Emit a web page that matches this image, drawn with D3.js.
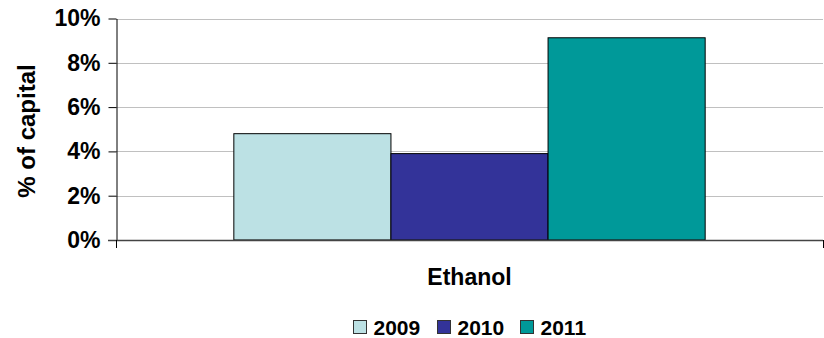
<!DOCTYPE html>
<html>
<head>
<meta charset="utf-8">
<script src="https://cdn.jsdelivr.net/npm/d3@7"></script>
<style>
  html, body { margin: 0; padding: 0; background: #fff; }
  svg { display: block; }
  text { font-family: "Liberation Sans", Arial, sans-serif; font-weight: bold; fill: #000; }
</style>
</head>
<body>
<svg id="chart" width="824" height="338"></svg>
<script>
// Return on capital by year, ethanol segment
const categories = ["Ethanol"];
const years = ["2009", "2010", "2011"];
const values2009 = [0.048];
const values2010 = [0.039];
const values2011 = [0.0913];
const yTicks = [0, 0.02, 0.04, 0.06, 0.08, 0.10];
const yTitle = "% of capital";

const seriesValues = { "2009": values2009, "2010": values2010, "2011": values2011 };
const colors = { "2009": "#bce1e4", "2010": "#333399", "2011": "#009999" };

const svg = d3.select("#chart");
const plot = { left: 116, right: 823, top: 18.5, bottom: 240 };
const tickFont = 23;
const titleFont = 24;
const legendFont = 21;

const y = d3.scaleLinear().domain([0, 0.10]).range([plot.bottom, plot.top]);
const x0 = d3.scaleBand().domain(categories).range([plot.left, plot.right]).padding(0);
const x1 = d3.scaleBand().domain(years).range([0, x0.bandwidth()])
  .paddingInner(0).paddingOuter(0.75);

// horizontal gridlines
svg.append("g")
  .selectAll("line")
  .data(yTicks.filter(d => d > 0))
  .join("line")
  .attr("x1", plot.left).attr("x2", plot.right)
  .attr("y1", d => Math.round(y(d)) + 0.5).attr("y2", d => Math.round(y(d)) + 0.5)
  .attr("stroke", "#c0c0c0").attr("stroke-width", 1);

// bars
const groups = svg.append("g")
  .selectAll("g")
  .data(categories)
  .join("g")
  .attr("transform", d => `translate(${x0(d)},0)`);

groups.selectAll("rect")
  .data((c, i) => years.map(yr => ({ year: yr, value: seriesValues[yr][i] })))
  .join("rect")
  .attr("x", d => x1(d.year))
  .attr("y", d => y(d.value))
  .attr("width", x1.bandwidth())
  .attr("height", d => y(0) - y(d.value))
  .attr("fill", d => colors[d.year])
  .attr("stroke", "#000").attr("stroke-width", 1);

// y axis
const yAxis = svg.append("g")
  .attr("transform", `translate(${plot.left + 0.5},0)`)
  .call(d3.axisLeft(y).tickValues(yTicks).tickFormat(d3.format(".0%"))
    .tickSize(8).tickSizeOuter(0).tickPadding(8));
yAxis.select(".domain").attr("stroke", "#000");
yAxis.selectAll(".tick line").attr("stroke", "#000");
yAxis.selectAll(".tick text")
  .attr("font-size", tickFont)
  .attr("font-family", "Liberation Sans, Arial, sans-serif")
  .attr("font-weight", "bold")
  .attr("fill", "#000");

// x axis with category boundary ticks
const xAxisG = svg.append("g");
xAxisG.append("line")
  .attr("x1", plot.left - 8).attr("x2", plot.right)
  .attr("y1", plot.bottom + 0.5).attr("y2", plot.bottom + 0.5)
  .attr("stroke", "#444").attr("stroke-width", 1.5);
const boundaries = [x0.range()[0], ...categories.map(c => x0(c) + x0.bandwidth())];
xAxisG.selectAll(".bound")
  .data(boundaries)
  .join("line")
  .attr("class", "bound")
  .attr("x1", d => d + 0.5).attr("x2", d => d + 0.5)
  .attr("y1", plot.bottom).attr("y2", plot.bottom + 8)
  .attr("stroke", "#000");
xAxisG.selectAll(".cat")
  .data(categories)
  .join("text")
  .attr("class", "cat")
  .attr("x", d => x0(d) + x0.bandwidth() / 2)
  .attr("y", 285)
  .attr("text-anchor", "middle")
  .attr("font-size", tickFont)
  .text(d => d);

// y axis title
svg.append("text")
  .attr("transform", "translate(35,131) rotate(-90)")
  .attr("text-anchor", "middle")
  .attr("font-size", titleFont)
  .text(yTitle);

// legend
const legend = svg.append("g");
const items = legend.selectAll("g")
  .data(years)
  .join("g");
items.append("rect")
  .attr("width", 13).attr("height", 13)
  .attr("y", 320.5)
  .attr("fill", d => colors[d])
  .attr("stroke", "#333").attr("stroke-width", 1);
items.append("text")
  .attr("x", 20)
  .attr("y", 335)
  .attr("font-size", legendFont)
  .text(d => d);
let cx = 0;
const offsets = [];
items.each(function () {
  offsets.push(cx);
  const w = d3.select(this).select("text").node().getComputedTextLength();
  cx += 20 + w + 17;
});
const totalW = cx - 17;
const startX = 469.5 - totalW / 2;
items.attr("transform", (d, i) => `translate(${Math.round(startX + offsets[i]) + 0.5},0)`);
</script>
</body>
</html>
